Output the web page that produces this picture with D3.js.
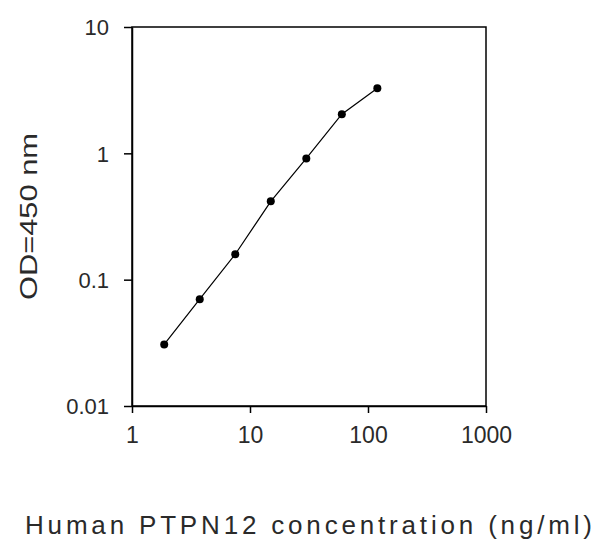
<!DOCTYPE html>
<html><head><meta charset="utf-8">
<script src="https://cdn.jsdelivr.net/npm/d3@7"></script>
<style>body{margin:0;background:#fff}svg{display:block}</style>
</head><body>
<svg id="c" width="608" height="545"></svg>
<script>
const concentrations = [1.875, 3.75, 7.5, 15, 30, 60, 120];
const odValues = [0.0307, 0.0701, 0.159, 0.417, 0.912, 2.04, 3.28];
const xTicks = [1, 10, 100, 1000];
const yTicks = [0.01, 0.1, 1, 10];
const xLabel = "Human PTPN12 concentration (ng/ml)";
const yLabel = "OD=450 nm";

const svg = d3.select("#c");
const L = 132, R = 486, T = 27, B = 406;
const x = d3.scaleLog().domain([1, 1000]).range([L, R]);
const y = d3.scaleLog().domain([0.01, 10]).range([B, T]);
const font = "Liberation Sans, Arial, sans-serif";

// frame
svg.append("rect").attr("x", L).attr("y", T).attr("width", R - L).attr("height", B - T)
  .attr("fill", "none").attr("stroke", "#000").attr("stroke-width", 1.5);

const xa = svg.append("g").attr("transform", `translate(0,${B})`)
  .call(d3.axisBottom(x).tickValues(xTicks).tickFormat(d3.format("d")).tickSizeInner(7).tickSizeOuter(0).tickPadding(14));
const ya = svg.append("g").attr("transform", `translate(${L},0)`)
  .call(d3.axisLeft(y).tickValues(yTicks).tickFormat(d => String(d)).tickSizeInner(8).tickSizeOuter(0).tickPadding(15));
[xa, ya].forEach(a => {
  a.select(".domain").attr("stroke-width", 1.5);
  a.selectAll(".tick line").attr("stroke-width", 1.5);
  a.selectAll("text").attr("font-family", font).attr("fill", "#2a2a2a");
});
xa.selectAll("text").attr("font-size", 23);
ya.selectAll("text").attr("font-size", 22).attr("dy", "0.35em");

const line = d3.line().x((d, i) => x(concentrations[i])).y(d => y(d));
svg.append("path").datum(odValues).attr("d", line).attr("fill", "none")
  .attr("stroke", "#000").attr("stroke-width", 1.2);
svg.selectAll("circle.pt").data(odValues).join("circle").attr("class", "pt")
  .attr("cx", (d, i) => x(concentrations[i])).attr("cy", d => y(d)).attr("r", 4).attr("fill", "#000");

svg.append("text").attr("x", 25).attr("y", 534).attr("font-family", font).attr("font-size", 26)
  .attr("fill", "#2a2a2a").attr("textLength", 567).attr("lengthAdjust", "spacing").text(xLabel);
svg.append("text").attr("transform", "translate(37,300) rotate(-90)").attr("font-family", font)
  .attr("font-size", 23).attr("fill", "#2a2a2a").attr("textLength", 167).attr("lengthAdjust", "spacingAndGlyphs").text(yLabel);
</script>
</body></html>
